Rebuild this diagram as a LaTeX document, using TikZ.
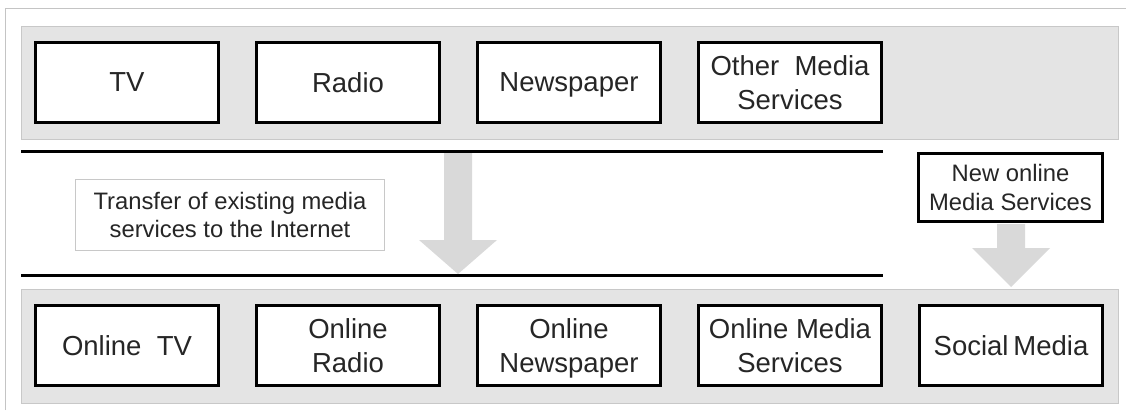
\documentclass[tikz,border=0pt]{standalone}
\usepackage{fontspec}
\setmainfont{Liberation Sans}
\definecolor{panelfill}{RGB}{228,228,228}
\definecolor{panelline}{RGB}{200,200,200}
\definecolor{arrowfill}{RGB}{217,217,217}
\definecolor{frameline}{RGB}{196,196,196}
\definecolor{txt}{RGB}{38,38,38}
\begin{document}
\begin{tikzpicture}[x=1pt,y=-1pt,
  panel/.style={fill=panelfill,draw=panelline,line width=1pt},
  mbox/.style={draw=black,fill=white,line width=3pt,minimum width=183pt,minimum height=80pt,
    inner sep=0pt,text depth=0pt,align=center,text=txt,font=\fontsize{27.5}{33.5}\selectfont},
  sbox/.style={draw=black,fill=white,line width=3pt,minimum width=184pt,minimum height=68pt,
    inner sep=0pt,text depth=0pt,align=center,text=txt,font=\fontsize{23.8}{28.3}\selectfont},
  note/.style={draw=panelline,fill=white,line width=1pt,minimum width=309pt,minimum height=71pt,
    inner sep=0pt,text depth=0pt,align=center,text=txt,font=\fontsize{23.8}{27.5}\selectfont},
  sep/.style={line width=3pt,draw=black},
  blockarrow/.style={fill=arrowfill,draw=none}]
\useasboundingbox (0,0) rectangle (1126,410);
% outer frame
\draw[frameline,line width=1pt] (5.5,410) -- (5.5,8.5) -- (1126,8.5);
% panels
\draw[panel] (21,26) rectangle (1118,139);
\draw[panel] (21,289) rectangle (1118,403);
% top row
\node[mbox] (tv) at (127,82.5) {TV};
\node[mbox] (radio) at (348,82.5) {Radio};
\node[mbox] (news) at (569,82.5) {Newspaper};
\node[mbox] (other) at (790,82.5) {Other\ \ Media\\Services};
% bottom row
\node[mbox] (otv) at (127,345.5) {Online\ \ TV};
\node[mbox] (oradio) at (348,345.5) {Online\\Radio};
\node[mbox] (onews) at (569,345.5) {Online\\Newspaper};
\node[mbox] (oother) at (790,345.5) {Online Media\\Services};
\node[mbox] (social) at (1011,345.5) {Social\hspace{-0.1em} Media};
% middle
\node[sbox] (newonline) at (1010.5,187.5) {New online\\Media Services};
\node[note] (transfer) at (230,215) {Transfer of existing media\\services to the Internet};
% separator lines
\coordinate (l1a) at (21,151.5); \coordinate (l1b) at (883,151.5);
\coordinate (l2a) at (21,275); \coordinate (l2b) at (883,275);
\draw[sep] (l1a) -- (l1b);
\draw[sep] (l2a) -- (l2b);
% block arrows
\fill[blockarrow] (444,153) -- (472,153) -- (472,240) -- (497,240) -- (458,274) -- (419,240) -- (444,240) -- cycle;
\fill[blockarrow] (997,224) -- (1025,224) -- (1025,248) -- (1050,248) -- (1011,287) -- (972,248) -- (997,248) -- cycle;
\end{tikzpicture}
\end{document}
